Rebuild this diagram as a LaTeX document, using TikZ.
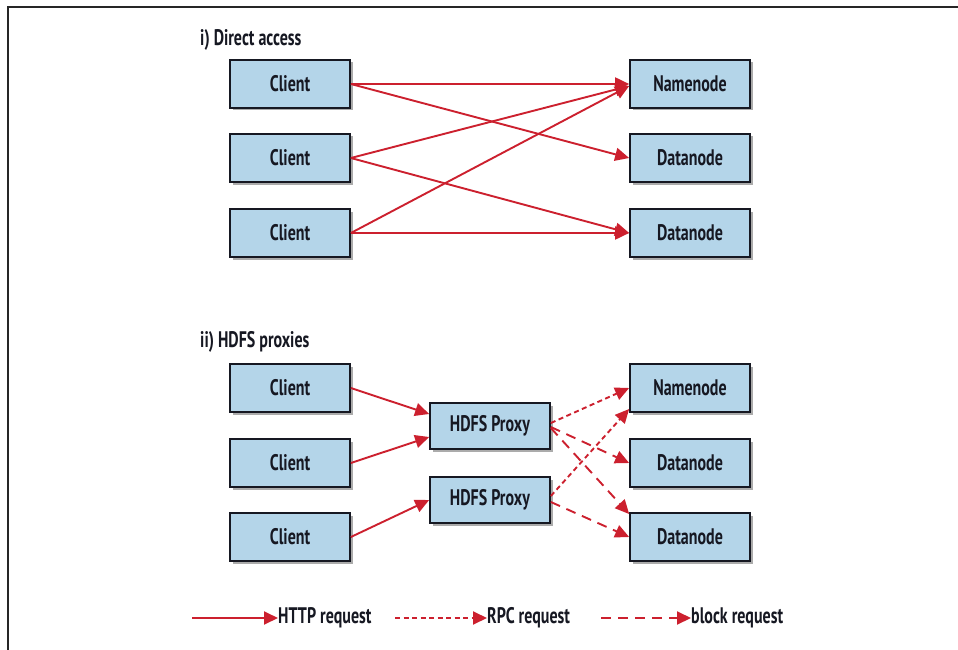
\documentclass[tikz,border=0pt]{standalone}
\usepackage{fontspec}
\setmainfont{PT Sans}[FakeStretch=0.71]
\usetikzlibrary{arrows.meta,shadows}
\definecolor{reqred}{RGB}{204,32,46}
\definecolor{boxblue}{RGB}{180,213,233}
\definecolor{inkdark}{RGB}{22,24,34}
\tikzset{
  txt/.style={font=\fontsize{22.5}{26}\selectfont\bfseries, text=inkdark},
  box/.style={txt, draw=inkdark, line width=1.7pt, fill=boxblue,
    minimum width=120pt, minimum height=48pt, inner sep=0pt,
    drop shadow={shadow xshift=2.5pt, shadow yshift=-2.5pt, fill=black!60, opacity=0.55}},
  proxy/.style={box, minimum height=46pt},
  title/.style={txt, inner sep=0pt, anchor=west},
  lbl/.style={txt, inner sep=0pt, anchor=west},
  req/.style={draw=reqred, line width=1.9pt, -{Triangle[length=14pt,width=13pt]}},
  http/.style={req},
  rpc/.style={req, dash pattern=on 5pt off 3.5pt},
  blk/.style={req, dash pattern=on 10pt off 7pt},
}
\begin{document}
\begin{tikzpicture}[x=1pt,y=-1pt]
\useasboundingbox (0,0) rectangle (958,650);
% page frame
\draw[line width=2pt, black!85] (8,650) -- (8,7) -- (958,7);

% i) direct access
\node[title] (t1) at (200,40) {i) Direct access};
\node[box] (c1) at (290,84) {Client};
\node[box] (c2) at (290,158) {Client};
\node[box] (c3) at (290,233) {Client};
\node[box] (n1) at (690,84) {Namenode};
\node[box] (d1) at (690,158) {Datanode};
\node[box] (d2) at (690,233) {Datanode};

\draw[http] (c1.east) -- (n1.west);
\draw[http] (c1.east) -- (d1.west);
\draw[http] (c2.east) -- ([yshift=-2pt]n1.west);
\draw[http] (c2.east) -- (d2.west);
\draw[http] (c3.east) -- ([yshift=-2pt]n1.west);
\draw[http] (c3.east) -- (d2.west);

% ii) HDFS proxies
\node[title] (t2) at (200,342) {ii) HDFS proxies};
\node[box] (pc1) at (290,388) {Client};
\node[box] (pc2) at (290,463) {Client};
\node[box] (pc3) at (290,537) {Client};
\node[proxy] (p1) at (490,426) {HDFS Proxy};
\node[proxy] (p2) at (490,500) {HDFS Proxy};
\node[box] (pn1) at (690,388) {Namenode};
\node[box] (pd1) at (690,463) {Datanode};
\node[box] (pd2) at (690,537) {Datanode};

\draw[http] (pc1.east) -- ([yshift=12pt]p1.west);
\draw[http] (pc2.east) -- ([yshift=-11pt]p1.west);
\draw[http] (pc3.east) -- (p2.west);

\draw[rpc] ([yshift=3pt]p1.east) -- (pn1.west);
\draw[rpc] ([yshift=4pt]p2.east) -- ([yshift=-21pt]pn1.west);
\draw[blk] ([yshift=-1pt]p1.east) -- (pd1.west);
\draw[blk] ([yshift=-2pt]p1.east) -- ([yshift=23pt]pd2.west);
\draw[blk] ([yshift=-2pt]p2.east) -- (pd2.west);

% legend
\coordinate (lh) at (192,618);
\node[lbl] (th) at (278,618) {HTTP request};
\draw[http] (lh) -- (th.west);
\coordinate (lr) at (395,618);
\node[lbl] (tr) at (487,618) {RPC request};
\draw[rpc] (lr) -- (tr.west);
\coordinate (lb) at (601,618);
\node[lbl] (tb) at (691,618) {block request};
\draw[blk] (lb) -- (tb.west);
\end{tikzpicture}
\end{document}
